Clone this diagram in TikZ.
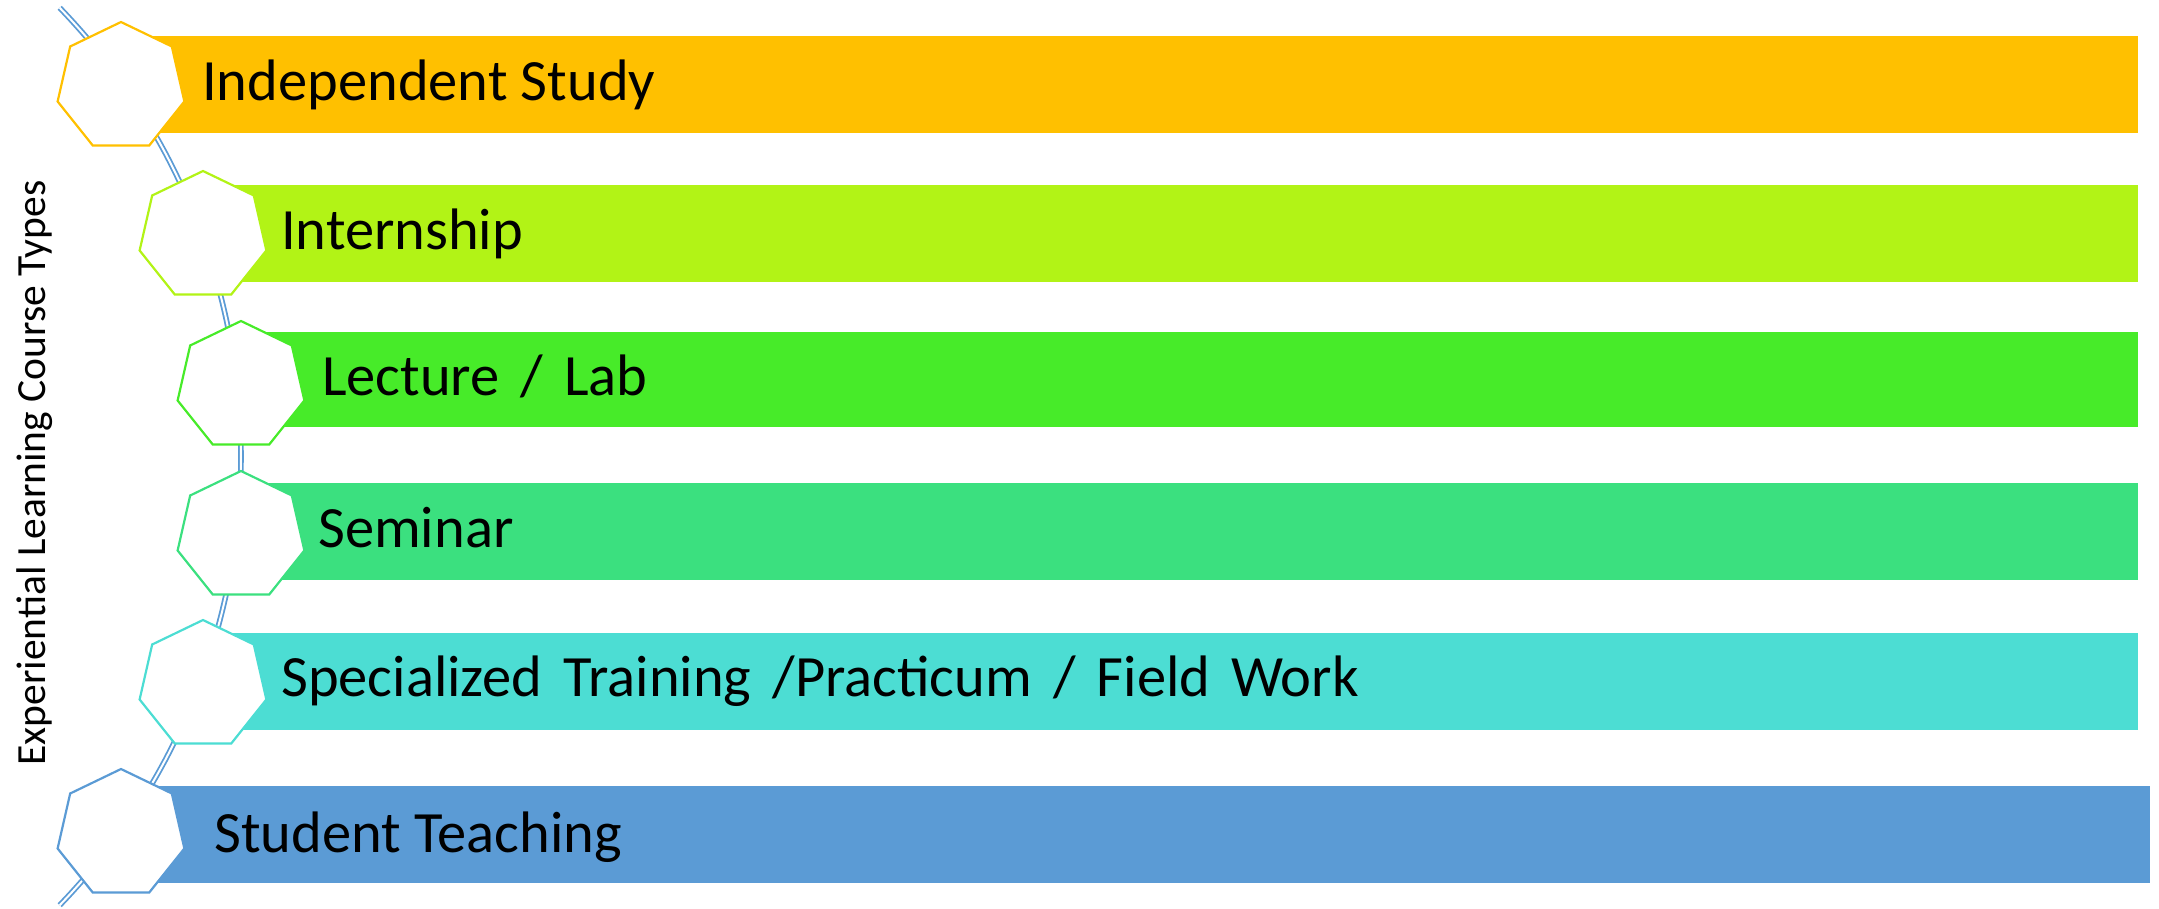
\documentclass[tikz,border=0pt]{standalone}
\usepackage{fontspec}
\setmainfont{Carlito}
\usetikzlibrary{shapes.geometric}
\definecolor{cA}{HTML}{FFC000}
\definecolor{cB}{HTML}{B2F316}
\definecolor{cC}{HTML}{47EB29}
\definecolor{cD}{HTML}{3BE07F}
\definecolor{cE}{HTML}{4CDDD3}
\definecolor{cF}{HTML}{5B9BD5}
\newcommand\widesp{\hspace{0.36em}}
\begin{document}
\begin{tikzpicture}[x=1pt,y=-1pt,
  hept/.style={regular polygon, regular polygon sides=7, minimum size=130pt, inner sep=0pt, draw=#1, fill=white, line width=2.2pt},
  lbl/.style={anchor=base west, inner sep=0pt, font=\fontsize{58.5}{60}\selectfont},
  spine/.style={draw=cF, line width=1.8pt, double=white, double distance=2pt}]
\useasboundingbox (0,0) rectangle (2159,908);
% spine
\coordinate (s0) at (60,8);
\coordinate (s1) at (60,905);
\draw[spine] plot[domain=-44:44, samples=150] ({-405+646*cos(\x)},{456.5+646*sin(\x)});
% bars
\fill[cA] (121,36) rectangle (2138,133);
\fill[cB] (203,185) rectangle (2138,282);
\fill[cC] (241,332) rectangle (2138,427);
\fill[cD] (241,483) rectangle (2138,580);
\fill[cE] (203,633) rectangle (2138,730);
\fill[cF] (121,786) rectangle (2150,883);
% heptagons
\node[hept=cA] (h1) at (121,87) {};
\node[hept=cB] (h2) at (203,236) {};
\node[hept=cC] (h3) at (241,386) {};
\node[hept=cD] (h4) at (241,536) {};
\node[hept=cE] (h5) at (203,685) {};
\node[hept=cF] (h6) at (121,834) {};
% labels
\node[lbl] (t1) at (202,100) {Independent Study};
\node[lbl] (t2) at (281,249) {Internship};
\node[lbl] (t3) at (322,395) {Lecture\widesp/\widesp Lab};
\node[lbl] (t4) at (318,547) {Seminar};
\node[lbl] (t5) at (281,696) {Specialized\widesp Training\widesp/Practicum\widesp/\widesp Field\widesp Work};
\node[lbl] (t6) at (214,852) {Student Teaching};
% vertical title
\node[anchor=base, rotate=90, inner sep=0pt, font=\fontsize{41.5}{44}\selectfont] (title) at (45,473) {Experiential Learning Course Types};
\end{tikzpicture}
\end{document}
